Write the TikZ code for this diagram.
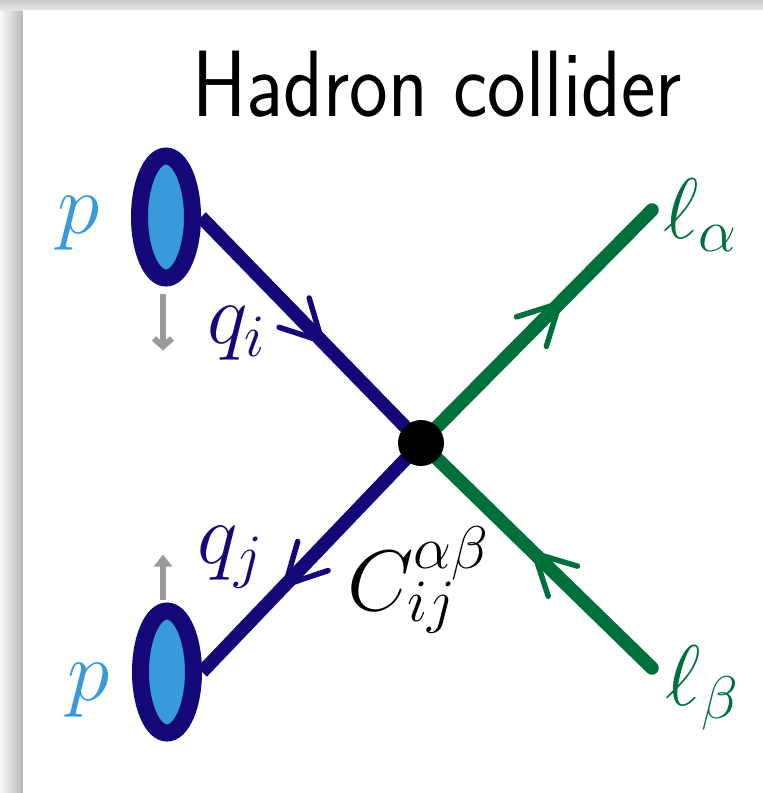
\RequirePackage{fix-cm}
\documentclass[tikz,border=0pt]{standalone}
\usepackage{graphicx}
\usetikzlibrary{shapes.geometric,arrows.meta,decorations.markings,backgrounds}
\definecolor{quarkblue}{HTML}{140778}
\definecolor{protonblue}{HTML}{3899DB}
\definecolor{leptongreen}{HTML}{00703A}
\definecolor{spingray}{HTML}{9A9A9A}

\begin{document}
\begin{tikzpicture}[x=1pt, y=-1pt,
  proton/.style={ellipse, draw=quarkblue, fill=protonblue, line width=17pt, minimum width=53pt, minimum height=122pt, inner sep=0pt},
  vtx/.style={circle, fill=black, minimum size=46pt, inner sep=0pt},
  lbl/.style={font=\fontsize{86}{94}\selectfont, inner sep=0pt},
  quark/.style={draw=quarkblue, line width=13.5pt},
  lepton/.style={draw=leptongreen, line width=13.5pt, line cap=round},
  midarrow/.style 2 args={postaction={decorate}, decoration={markings, mark=at position #1 with {\draw[#2, line width=5.5pt, line cap=round, line join=round] (-40pt,-21pt) -- (0pt,0pt) -- (-40pt,21pt);}}},
  spin/.style={draw=spingray, line width=6pt}
]
\useasboundingbox (0,0) rectangle (763,793);

\node[proton] (pU) at (166,217) {};
\node[proton] (pL) at (167,672) {};
\node[vtx] (v) at (421,443) {};
\coordinate (lA) at (652,210);
\coordinate (lB) at (652,668);

\begin{scope}[on background layer]
  % page with its shadow
  \shade[left color=gray!5, right color=gray!55] (0,0) rectangle (23,793);
  \shade[top color=gray!40, bottom color=gray!20] (0,0) rectangle (763,10);
  \fill[white] (23,10) rectangle (763,793);
  % quark and lepton lines
  \draw[quark, midarrow={0.55}{quarkblue}] (pU.east) -- (v.center);
  \draw[quark, midarrow={0.62}{quarkblue}] (v.center) -- (pL.east);
  \draw[lepton, midarrow={0.60}{leptongreen}] (v.center) -- (lA);
  \draw[lepton, midarrow={0.51}{leptongreen}] (lB) -- (v.center);
\end{scope}

\draw[spin, -{Straight Barb[length=8pt,width=18pt]}] (pU.south) ++(-3,7) -- ++(0,57);
\draw[spin, -{Triangle[length=12pt,width=18pt]}] (pL.north) ++(-4,-3) -- ++(0,-45);

\node[font=\fontsize{82}{86}\selectfont\sffamily] (title) at (437,84) {\scalebox{1}[1.15]{Hadron collider}};
\node[lbl, text=protonblue] (pUlab) at (79,223) {$p$};
\node[lbl, text=protonblue] (pLlab) at (89,690) {$p$};
\node[lbl, text=quarkblue] (qi) at (236,333) {$q_i$};
\node[lbl, text=quarkblue] (qj) at (230,557) {$q_j$};
\node[lbl] (cij) at (418,580) {$C_{ij}^{\alpha\beta}$};
\node[lbl, text=leptongreen] (la) at (700,215) {$\ell_\alpha$};
\node[lbl, text=leptongreen] (lb) at (702,688) {$\ell_\beta$};
\end{tikzpicture}
\end{document}
